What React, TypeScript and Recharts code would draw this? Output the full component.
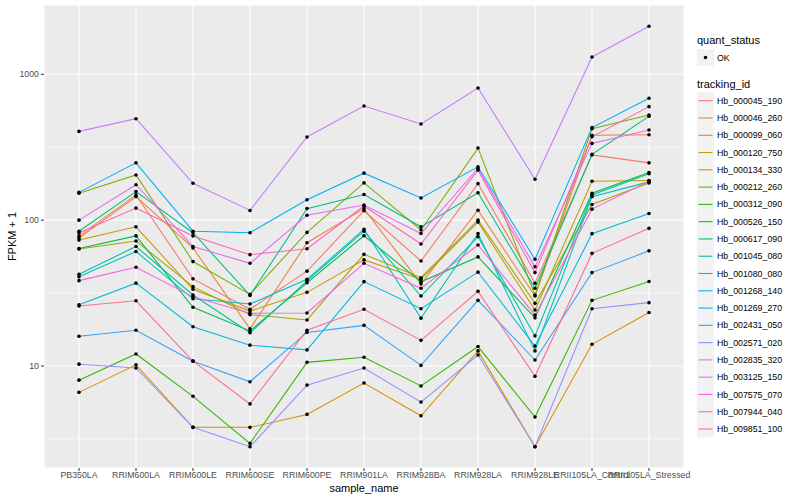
import React from 'react';
import { LineChart, Line, XAxis, YAxis, CartesianGrid, ReferenceLine } from 'recharts';

const FONT = '"Liberation Sans", Arial, Helvetica, sans-serif';

const categories = [
  'PB350LA', 'RRIM600LA', 'RRIM600LE', 'RRIM600SE', 'RRIM600PE', 'RRIM901LA',
  'RRIM928BA', 'RRIM928LA', 'RRIM928LE', 'RRII105LA_Control', 'RRII105LA_Stressed',
];

const trackingIds = [
  'Hb_000045_190', 'Hb_000046_260', 'Hb_000099_060', 'Hb_000120_750', 'Hb_000134_330',
  'Hb_000212_260', 'Hb_000312_090', 'Hb_000526_150', 'Hb_000617_090', 'Hb_001045_080',
  'Hb_001080_080', 'Hb_001268_140', 'Hb_001269_270', 'Hb_002431_050', 'Hb_002571_020',
  'Hb_002835_320', 'Hb_003125_150', 'Hb_007575_070', 'Hb_007944_040', 'Hb_009851_100',
];

const colors = [
  '#F8766D', '#EA8331', '#D89000', '#C09B00', '#A3A500', '#7CAE00', '#39B600', '#00BB4E',
  '#00BF7D', '#00C1A3', '#00BFC4', '#00BAE0', '#00B0F6', '#35A2FF', '#9590FF', '#C77CFF',
  '#E76BF3', '#FA62DB', '#FF62BC', '#FF6C91',
];

// FPKM + 1 per sample
const hb000045_190 = [78, 149, 39.6, 24.5, 44.7, 116, 52.5, 178, 36.9, 280, 247];
const hb000046_260 = [75.5, 145, 64.5, 18, 70, 120, 36.5, 117, 30.2, 382, 385];
const hb000099_060 = [6.6, 10.2, 3.8, 3.8, 4.66, 7.65, 4.56, 12.7, 2.8, 14.1, 23.3];
const hb000120_750 = [73, 90, 33.6, 23.8, 32, 53.4, 39.4, 97, 24.2, 185, 187];
const hb000134_330 = [63.5, 72, 35, 22.5, 20.7, 58.3, 40.3, 100, 26.9, 128, 180];
const hb000212_260 = [153, 204, 52, 31, 82.4, 180, 85.7, 312, 30.7, 424, 526];
const hb000312_090 = [8.0, 12.1, 6.2, 2.95, 10.6, 11.5, 7.3, 13.6, 4.47, 28.2, 38];
const hb000526_150 = [64, 78, 25.3, 17.4, 37.2, 78.2, 37.8, 56, 21.4, 153, 212];
const hb000617_090 = [84, 157, 82, 30.5, 120, 150, 90, 154, 34.1, 283, 515];
const hb001045_080 = [42.6, 66, 30.7, 16.9, 38.3, 84, 30.2, 77, 16.1, 149, 208];
const hb001080_080 = [41, 61, 28.9, 26.6, 39.3, 86.6, 21.3, 81, 12.7, 145, 183];
const hb001268_140 = [26.3, 37, 18.6, 13.9, 12.9, 37.9, 24.7, 44, 13.7, 80.8, 111];
const hb001269_270 = [155, 247, 84, 82, 138, 210, 142, 232, 53.9, 431, 685];
const hb002431_050 = [16, 17.6, 10.8, 7.8, 17.0, 19.0, 10.1, 28.2, 11.0, 43.7, 61.6];
const hb002571_020 = [10.3, 9.7, 3.8, 2.8, 7.4, 9.7, 5.66, 11.9, 2.8, 24.7, 27.2];
const hb002835_320 = [406, 496, 179, 116.6, 372, 606, 456, 805, 190.6, 1314, 2133];
const hb003125_150 = [100, 175, 66, 50.6, 108, 127, 81, 226, 47.9, 336, 415];
const hb007575_070 = [38.5, 47.5, 29.8, 23, 23.1, 50.6, 34.1, 67.6, 22.4, 119, 185];
const hb007944_040 = [82, 121, 78, 58, 63.7, 125, 68.6, 220, 43.7, 373, 600];
const hb009851_100 = [25.8, 28, 10.8, 5.5, 17.6, 24.5, 15.0, 32.5, 8.5, 59.2, 87.9];

const seriesValues = [
  hb000045_190, hb000046_260, hb000099_060, hb000120_750, hb000134_330,
  hb000212_260, hb000312_090, hb000526_150, hb000617_090, hb001045_080,
  hb001080_080, hb001268_140, hb001269_270, hb002431_050, hb002571_020,
  hb002835_320, hb003125_150, hb007575_070, hb007944_040, hb009851_100,
];

const yTicks = [10, 100, 1000];
const yMinor = [3.1623, 31.623, 316.23];
const yDomain = [2.0, 2985];

const data = categories.map((c, i) => {
  const row: Record<string, any> = { sample_name: c };
  trackingIds.forEach((id, j) => {
    row[id] = seriesValues[j][i];
  });
  return row;
});

const YLabel = (props: any) => {
  const vb = props.viewBox || {};
  const cy = vb.y + vb.height / 2;
  return (
    <text x={16} y={cy} transform={`rotate(-90, 16, ${cy})`} textAnchor="middle"
      fontSize={11} fontFamily={FONT} fill="#000">FPKM + 1</text>
  );
};

const XLabel = (props: any) => {
  const vb = props.viewBox || {};
  const cx = vb.x + vb.width / 2;
  return (
    <text x={cx} y={vb.y + 24} textAnchor="middle" fontSize={11} fontFamily={FONT} fill="#000">
      sample_name
    </text>
  );
};

const Legend = () => {
  const rowH = 17.28;
  const firstTop = 92.2;
  return (
    <svg width={110} height={500} style={{ position: 'absolute', left: 690, top: 0 }}>
      <text x={7} y={44} fontSize={11} fontFamily={FONT} fill="#000">quant_status</text>
      <rect x={7} y={49} width={17} height={17} fill="#F2F2F2" />
      <circle cx={15.5} cy={57.5} r={1.8} fill="#000" />
      <text x={27} y={60.5} fontSize={8.8} fontFamily={FONT} fill="#000">OK</text>
      <text x={7} y={88} fontSize={11} fontFamily={FONT} fill="#000">tracking_id</text>
      {trackingIds.map((id, i) => {
        const top = firstTop + i * rowH;
        return (
          <g key={id}>
            <rect x={7} y={top} width={17} height={17} fill="#F2F2F2" />
            <line x1={8.5} x2={22.5} y1={top + 8.5} y2={top + 8.5} stroke={colors[i]} strokeWidth={1.1} />
            <text x={27} y={top + 11.6} fontSize={8.8} fontFamily={FONT} fill="#000">{id}</text>
          </g>
        );
      })}
    </svg>
  );
};

export default function App() {
  return (
    <div style={{ position: 'absolute', left: 0, top: 0, width: 800, height: 500, background: '#fff' }}>
      <LineChart width={800} height={500} data={data}
        margin={{ top: 5, right: 116, bottom: 12, left: 0 }}>
        <CartesianGrid fill="#EBEBEB" stroke="#FFFFFF" strokeWidth={1.07} />
        {yMinor.map((v) => (
          <ReferenceLine key={v} y={v} stroke="#FFFFFF" strokeWidth={0.53} />
        ))}
        <XAxis dataKey="sample_name" interval={0} padding={{ left: 35, right: 35 }}
          axisLine={false} tickLine={{ stroke: '#333333' }} tickSize={3} tickMargin={1}
          height={20}
          tick={{ fontSize: 8.8, fill: '#4D4D4D', fontFamily: FONT }}
          label={<XLabel />} />
        <YAxis scale="log" domain={yDomain} ticks={yTicks} allowDataOverflow width={44}
          axisLine={false} tickLine={{ stroke: '#333333' }} tickSize={3} tickMargin={2}
          tick={{ fontSize: 8.8, fill: '#4D4D4D', fontFamily: FONT }}
          label={<YLabel />} />
        {trackingIds.map((id, i) => (
          <Line key={id} dataKey={id} stroke={colors[i]} strokeWidth={1.07} dot={false}
            activeDot={false} isAnimationActive={false} type="linear" />
        ))}
        {trackingIds.map((id) => (
          <Line key={id + '_pts'} dataKey={id} stroke="none" legendType="none"
            dot={{ r: 1.8, fill: '#000', stroke: 'none' }} activeDot={false}
            isAnimationActive={false} />
        ))}
      </LineChart>
      <Legend />
    </div>
  );
}
